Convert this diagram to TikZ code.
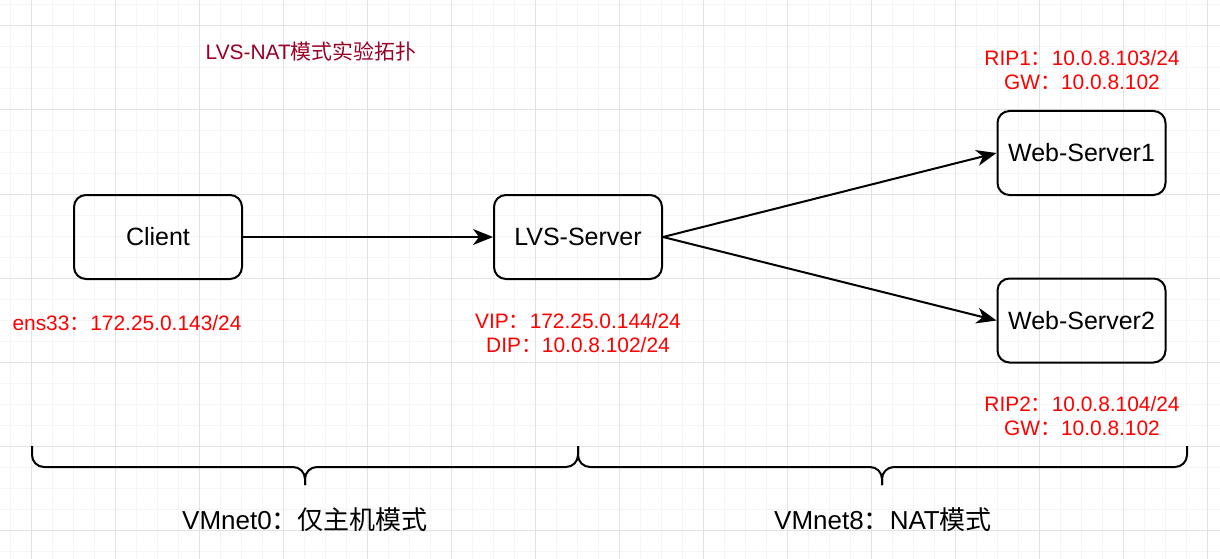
\documentclass[tikz,border=0pt]{standalone}
\usepackage{fontspec}
\setmainfont{Liberation Sans}
\newfontfamily\cjk{Noto Sans CJK SC}
\usetikzlibrary{positioning, arrows.meta}
\definecolor{titlered}{RGB}{153,0,38}
\definecolor{gridminor}{RGB}{245,245,245}
\definecolor{gridmajor}{RGB}{226,226,226}

\begin{document}
\begin{tikzpicture}[x=1pt, y=-1pt,
      host/.style={draw=black, line width=2pt, rounded corners=12pt, minimum width=168pt, minimum height=84pt, inner sep=0pt, font=\fontsize{25}{30}\selectfont},
      addr/.style={text=red, align=center, inner sep=0pt, font=\fontsize{20.9}{24.5}\selectfont},
      net/.style={inner sep=0pt, font=\fontsize{26}{31}\selectfont},
      link/.style={-{Stealth[length=20pt, width=16pt, inset=6pt]}, line width=2pt},
      curly/.style={line width=2pt, rounded corners=12pt},
    ]
      % canvas + grid
      \useasboundingbox (0,0) rectangle (1220,559);
      \fill[white] (0,0) rectangle (1220,559);
      \foreach \i in {0,...,57} \draw[gridminor, line width=1pt] (10.7+21*\i,0) -- (10.7+21*\i,559);
      \foreach \j in {0,...,26} \draw[gridminor, line width=1pt] (0,5+21*\j) -- (1220,5+21*\j);
      \foreach \i in {0,...,14} \draw[gridmajor, line width=1pt] (31.7+84*\i,0) -- (31.7+84*\i,559);
      \foreach \j in {0,...,6} \draw[gridmajor, line width=1pt] (0,26+84*\j) -- (1220,26+84*\j);
      % title
      \node[text=titlered, inner sep=0pt, font=\fontsize{20.9}{24}\selectfont] (title) at (311,52) {LVS-NAT{\cjk 模式实验拓扑}};
      % hosts
      \node[host] (client) at (158,237) {Client};
      \node[host] (lvs)    at (578,237) {LVS-Server};
      \node[host] (web1)   at (1081.5,153) {Web-Server1};
      \node[host] (web2)   at (1081.5,320.5) {Web-Server2};
      % addresses
      \node[addr] (clientip) at (127,323) {ens33{\cjk ：}172.25.0.143/24};
      \node[addr] (lvsip)    at (578,333) {VIP{\cjk ：}172.25.0.144/24\\DIP{\cjk ：}10.0.8.102/24};
      \node[addr] (web1ip)   at (1082,70) {RIP1{\cjk ：}10.0.8.103/24\\GW{\cjk ：}10.0.8.102};
      \node[addr] (web2ip)   at (1082,416) {RIP2{\cjk ：}10.0.8.104/24\\GW{\cjk ：}10.0.8.102};
      % traffic
      \draw[link] (client.east) -- (lvs.west);
      \draw[link] (lvs.east) -- (web1.west);
      \draw[link] (lvs.east) -- (web2.west);
      % networks (curly brackets)
      \coordinate (n0a) at (32,446);
      \coordinate (n0t) at (305,485);
      \coordinate (mid) at (578,446);
      \coordinate (n8t) at (882,485);
      \coordinate (n8b) at (1187,446);
      \draw[curly] (n0a) -- (n0a |- 0,467) -- (n0t |- 0,467) -- (n0t);
      \draw[curly] (mid) -- (mid |- 0,467) -- (n0t |- 0,467) -- (n0t);
      \draw[curly] (mid) -- (mid |- 0,467) -- (n8t |- 0,467) -- (n8t);
      \draw[curly] (n8b) -- (n8b |- 0,467) -- (n8t |- 0,467) -- (n8t);
      \node[net] (vmnet0) at (305,520) {VMnet0{\cjk ：仅主机模式}};
      \node[net] (vmnet8) at (883,520) {VMnet8{\cjk ：}NAT{\cjk 模式}};
    \end{tikzpicture}
\end{document}
